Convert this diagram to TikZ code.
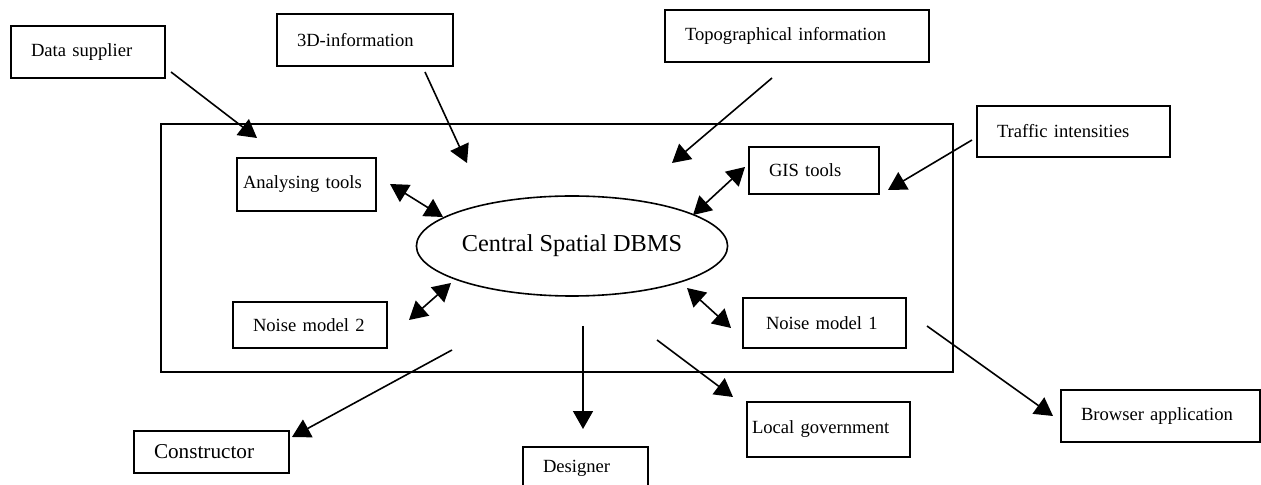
\documentclass[tikz,border=0pt]{standalone}
\usepackage{fontspec}
\setmainfont{Liberation Serif}
\usetikzlibrary{arrows.meta,shapes.geometric}

\begin{document}
\begin{tikzpicture}[x=0.5pt,y=-0.5pt,>={Triangle[length=9pt,width=10pt]},
    line width=0.8pt,
    box/.style={draw,rectangle,inner xsep=10pt,inner ysep=0pt,align=left,font=\fontsize{9.3}{11}\selectfont},
    frame/.style={draw,rectangle,inner sep=0pt},
    arr/.style={->,line width=0.8pt}]
  \useasboundingbox (0,0) rectangle (1261,485);
  % system boundary and the central database
  \node[frame,minimum width=396pt,minimum height=124pt] (sys) at (557,248) {};
  \node[draw,ellipse,inner sep=0pt,minimum width=145pt,minimum height=50pt,
    font=\fontsize{12.15}{14}\selectfont] (dbms) at (572,246) {\raisebox{-1.5pt}{Central Spatial DBMS}};
  % boxes outside
  \node[box,text width=57pt,minimum height=26pt] (ds) at (88,52) {Data supplier};
  \node[box,text width=68pt,minimum height=26pt] (info3d) at (365,40) {3D-information};
  \node[box,text width=112pt,minimum height=26pt] (topo) at (797,36) {Topographical information};
  \node[box,text width=76.5pt,minimum height=25.5pt] (traffic) at (1073.5,131.5) {Traffic intensities};
  \node[box,text width=57.5pt,minimum height=21pt,font=\fontsize{10.6}{12}\selectfont] (cons) at (211.5,452) {Constructor};
  \node[box,text width=42.5pt,minimum height=22pt,anchor=north] (designer) at (585.5,446) {Designer};
  \node[box,inner xsep=2.5pt,text width=76.5pt,minimum height=27.5pt] (lgov) at (828.5,429.5) {Local government};
  \node[box,text width=79.5pt,minimum height=26pt] (browser) at (1160.5,416) {Browser application};
  % boxes inside
  \node[box,inner xsep=3pt,text width=63.5pt,minimum height=26.5pt] (atools) at (306.5,184.5) {Analysing tools};
  \node[box,text width=45pt,minimum height=23.5pt] (gis) at (814,170.5) {GIS tools};
  \node[box,text width=57pt,minimum height=23pt] (noise2) at (310,325) {Noise model 2};
  \node[box,inner xsep=11.5pt,text width=58.5pt,minimum height=25pt] (noise1) at (824.5,323) {Noise model 1};
  % free ends of the connectors
  \coordinate (dsA) at (171,72);     \coordinate (dsB) at (257,138);
  \coordinate (infoA) at (425,72);   \coordinate (infoB) at (467,163);
  \coordinate (topoA) at (772,78);   \coordinate (topoB) at (672,163);
  \coordinate (trafA) at (972,140);  \coordinate (trafB) at (888,190);
  \coordinate (gisA) at (745,167);   \coordinate (gisB) at (693,215);
  \coordinate (atA) at (390,184);    \coordinate (atB) at (443,217);
  \coordinate (n2A) at (409,320);    \coordinate (n2B) at (451,283);
  \coordinate (n1A) at (687,288);    \coordinate (n1B) at (731,328);
  \coordinate (consA) at (452,350);  \coordinate (consB) at (292,437);
  \coordinate (desA) at (583,326);   \coordinate (desB) at (583,429);
  \coordinate (lgA) at (657,340);    \coordinate (lgB) at (733,397);
  \coordinate (brA) at (927,326);    \coordinate (brB) at (1053,416);
  % data flows
  \draw[arr] (dsA) -- (dsB);
  \draw[arr] (infoA) -- (infoB);
  \draw[arr] (topoA) -- (topoB);
  \draw[arr] (trafA) -- (trafB);
  \draw[arr,<->] (gisA) -- (gisB);
  \draw[arr,<->] (atA) -- (atB);
  \draw[arr,<->] (n2A) -- (n2B);
  \draw[arr,<->] (n1A) -- (n1B);
  \draw[arr] (consA) -- (consB);
  \draw[arr] (desA) -- (desB);
  \draw[arr] (lgA) -- (lgB);
  \draw[arr] (brA) -- (brB);
\end{tikzpicture}
\end{document}
